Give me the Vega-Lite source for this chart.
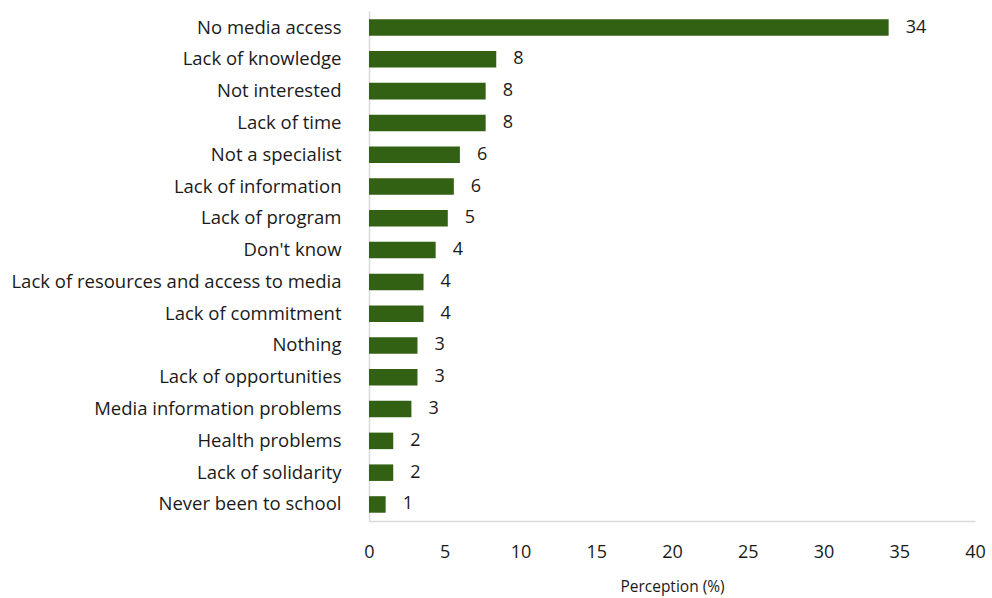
{
  "$schema": "https://vega.github.io/schema/vega-lite/v6.json",
  "autosize": {"type": "none"},
  "padding": {"left": 369, "top": 11, "right": 17, "bottom": 77},
  "width": 606,
  "height": 510,
  "background": "white",
  "config": {
    "view": {"stroke": null},
    "font": "Open Sans",
    "axis": {"labelFont": "Open Sans", "titleFont": "Open Sans", "labelColor": "#1a1a1a", "titleColor": "#1a1a1a"}
  },
  "data": {
    "values": [
      {"reason": "No media access", "value": 34.3, "label": "34"},
      {"reason": "Lack of knowledge", "value": 8.4, "label": "8"},
      {"reason": "Not interested", "value": 7.7, "label": "8"},
      {"reason": "Lack of time", "value": 7.7, "label": "8"},
      {"reason": "Not a specialist", "value": 6.0, "label": "6"},
      {"reason": "Lack of information", "value": 5.6, "label": "6"},
      {"reason": "Lack of program", "value": 5.2, "label": "5"},
      {"reason": "Don't know", "value": 4.4, "label": "4"},
      {"reason": "Lack of resources and access to media", "value": 3.6, "label": "4"},
      {"reason": "Lack of commitment", "value": 3.6, "label": "4"},
      {"reason": "Nothing", "value": 3.2, "label": "3"},
      {"reason": "Lack of opportunities", "value": 3.2, "label": "3"},
      {"reason": "Media information problems", "value": 2.8, "label": "3"},
      {"reason": "Health problems", "value": 1.6, "label": "2"},
      {"reason": "Lack of solidarity", "value": 1.6, "label": "2"},
      {"reason": "Never been to school", "value": 1.1, "label": "1"}
    ]
  },
  "encoding": {
    "y": {
      "field": "reason",
      "type": "nominal",
      "sort": null,
      "scale": {"paddingInner": 0.48, "paddingOuter": 0.26},
      "axis": {
        "title": null,
        "ticks": false,
        "domain": true,
        "domainColor": "#d9d9d9",
        "domainWidth": 1.5,
        "labelFontSize": 18.5,
        "labelPadding": 28,
        "labelLimit": 400
      }
    },
    "x": {
      "field": "value",
      "type": "quantitative",
      "scale": {"domain": [0, 40], "nice": false},
      "axis": {
        "title": "Perception (%)",
        "values": [0, 5, 10, 15, 20, 25, 30, 35, 40],
        "grid": false,
        "ticks": false,
        "domain": true,
        "domainColor": "#d9d9d9",
        "domainWidth": 1.5,
        "labelFontSize": 18,
        "labelFlush": false,
        "labelPadding": 22,
        "titleFontSize": 15.5,
        "titleFontWeight": "normal",
        "titlePadding": 18
      }
    }
  },
  "layer": [
    {"mark": {"type": "bar", "color": "#336114"}},
    {
      "mark": {"type": "text", "align": "left", "baseline": "middle", "dx": 17, "fontSize": 18, "color": "#1a1a1a"},
      "encoding": {"text": {"field": "label"}}
    }
  ]
}
